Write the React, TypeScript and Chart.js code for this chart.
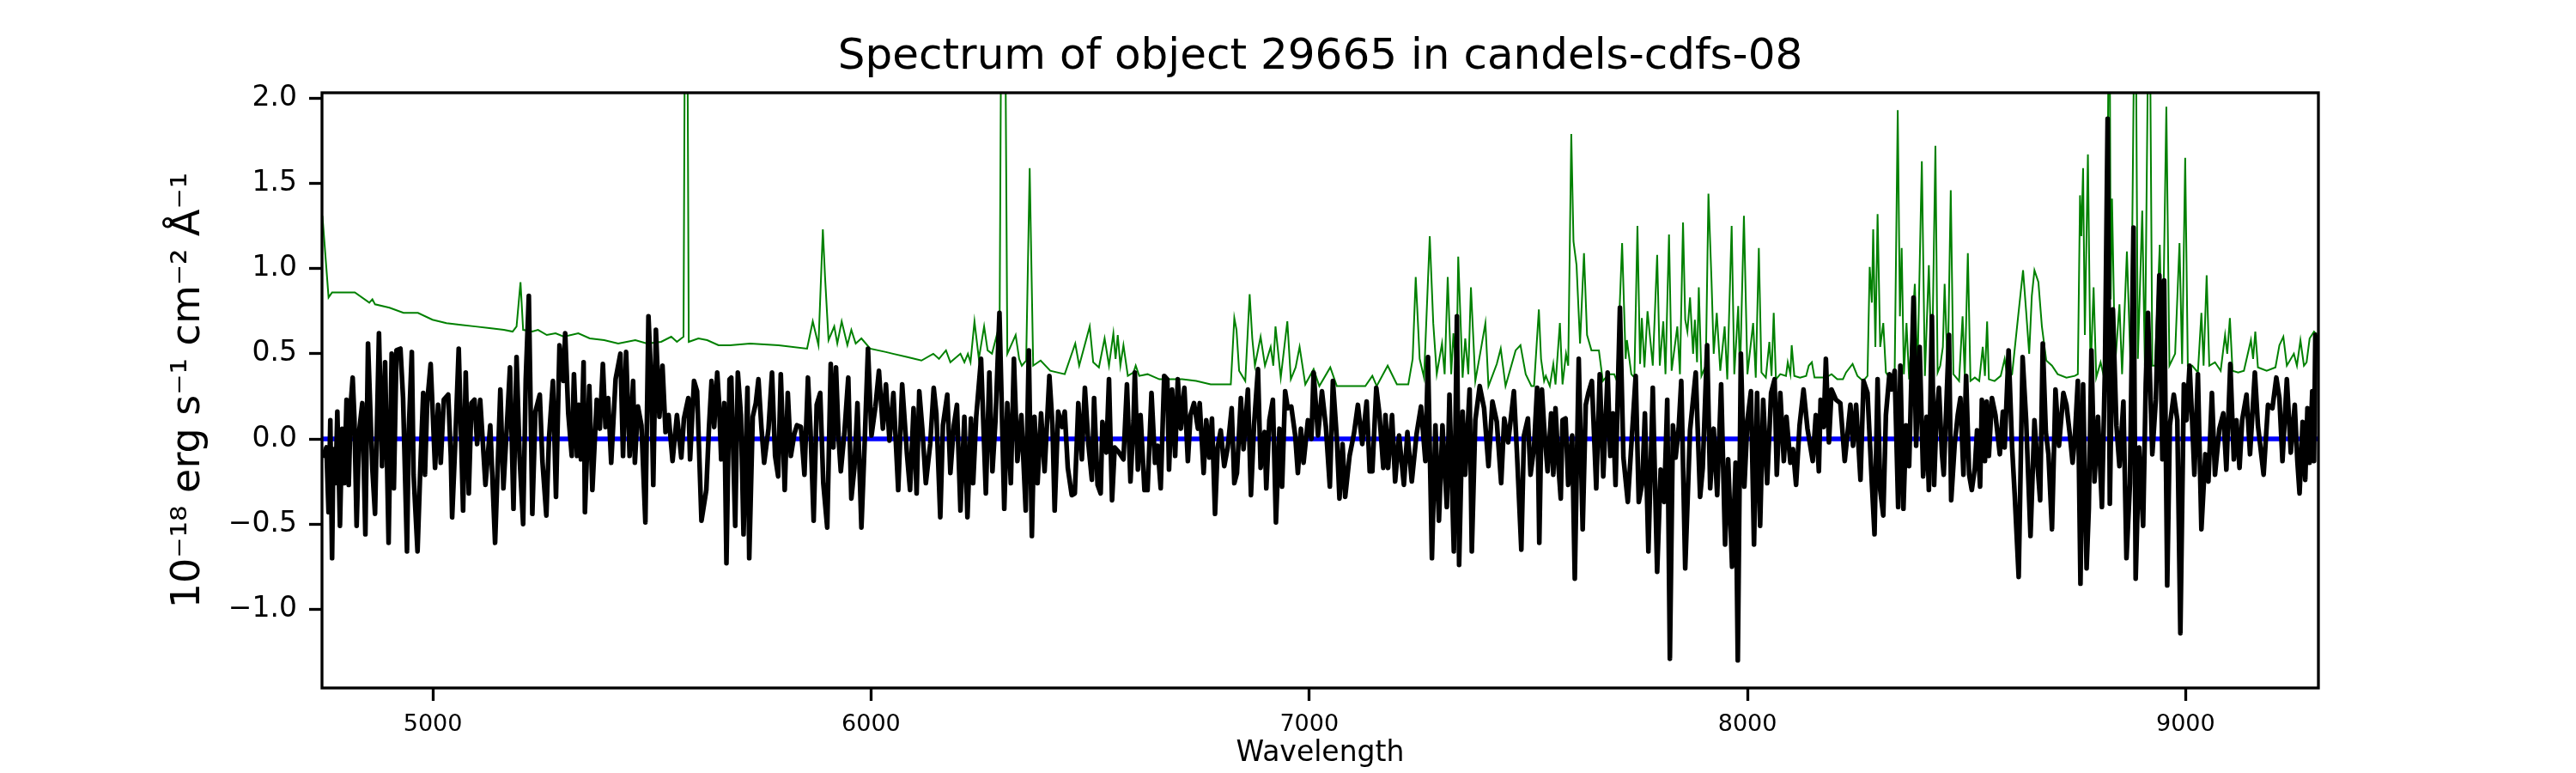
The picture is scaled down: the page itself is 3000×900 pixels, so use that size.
import React, { useEffect, useRef } from "react";
import { Chart, registerables } from "chart.js";

Chart.register(...registerables);

const titleText = "Spectrum of object 29665 in candels-cdfs-08";
const xLabel = "Wavelength";
const yLabel = "10⁻¹⁸ erg s⁻¹ cm⁻² Å⁻¹";

const xTicks = [5000, 6000, 7000, 8000, 9000];
const yTicks = [-1.0, -0.5, 0.0, 0.5, 1.0, 1.5, 2.0];
const xRange = [4747, 9303];
const yRange = [-1.462, 2.032];

// flux (black)
const fluxWave = [
  4749, 4757, 4762, 4766, 4770, 4773, 4778, 4782, 4788, 4793,
  4798, 4803, 4808, 4813, 4817, 4821, 4826, 4832, 4839, 4846,
  4852, 4862, 4868, 4877, 4884, 4891, 4899, 4906, 4911, 4917,
  4926, 4932, 4935, 4941, 4945, 4952, 4956, 4965, 4971, 4978,
  4982, 4987, 4995, 5005, 5012, 5018, 5025, 5035, 5041, 5044,
  5051, 5059, 5069, 5075, 5082, 5088, 5095, 5101, 5108, 5120,
  5131, 5142, 5154, 5161, 5169, 5176, 5184, 5191, 5198, 5206,
  5212, 5219, 5227, 5234, 5244, 5250, 5259, 5265, 5274, 5281,
  5289, 5298, 5302, 5309, 5317, 5322, 5329, 5333, 5338, 5344,
  5347, 5357, 5364, 5374, 5381, 5388, 5394, 5400, 5407, 5417,
  5428, 5434, 5441, 5449, 5457, 5461, 5468, 5476, 5485, 5492,
  5498, 5503, 5509, 5517, 5524, 5531, 5538, 5547, 5557, 5567,
  5573, 5583, 5587, 5596, 5603, 5613, 5624, 5630, 5636, 5642,
  5649, 5653, 5658, 5665, 5670, 5677,
  5681, 5690, 5696, 5703, 5709, 5718, 5722, 5730, 5737, 5743,
  5750, 5756, 5766, 5774, 5781, 5788, 5794, 5803, 5810, 5817,
  5825, 5831, 5840, 5848, 5856, 5862, 5869, 5876, 5884, 5891,
  5900, 5908, 5914, 5920, 5926, 5931, 5939, 5948, 5955, 5962,
  5969, 5978, 5985, 5993, 6001, 6010, 6018, 6027, 6034, 6042,
  6051, 6062, 6071, 6082, 6089, 6097, 6104, 6110, 6117, 6125,
  6135, 6143, 6149, 6158, 6164, 6174, 6181, 6189, 6196, 6204,
  6213, 6220, 6228, 6233, 6240, 6251, 6262, 6270, 6277, 6284,
  6293, 6304, 6311, 6319, 6326, 6334, 6343, 6353, 6360, 6367,
  6373, 6380, 6388, 6396, 6407, 6414, 6419, 6427, 6436, 6442,
  6449, 6458, 6465, 6473, 6481, 6488, 6496, 6504, 6509, 6517,
  6524, 6528, 6537, 6543, 6550, 6556, 6566, 6576, 6584, 6592,
  6599,
  6602, 6609, 6615, 6624, 6631, 6640, 6648, 6654, 6661, 6669,
  6676, 6680, 6687, 6694, 6700, 6707, 6715, 6723, 6729, 6737,
  6746, 6750, 6759, 6765, 6772, 6778, 6785, 6791, 6798, 6806,
  6814, 6823, 6829, 6835, 6844, 6850, 6860, 6867, 6874, 6883,
  6889, 6898, 6902, 6909, 6917, 6924, 6932, 6938, 6945, 6951,
  6959, 6968, 6974, 6981, 6987, 6997, 7005, 7010, 7020, 7029,
  7038, 7047, 7054, 7063, 7069, 7076, 7082, 7092, 7102, 7111,
  7121, 7131, 7138, 7144, 7153, 7160, 7169, 7174, 7180, 7189,
  7196, 7205, 7216, 7224, 7234, 7245, 7255, 7265, 7271, 7280,
  7288, 7296, 7304, 7314, 7320, 7330, 7337, 7342, 7350, 7356,
  7366, 7371, 7379, 7389, 7399, 7409, 7418, 7428, 7438, 7445,
  7454, 7467, 7474, 7484, 7490, 7499, 7505, 7513, 7520,
  7525, 7531, 7536, 7544, 7552, 7557, 7562, 7569, 7574, 7578,
  7585, 7591, 7600, 7606, 7615, 7624, 7631, 7637, 7645, 7655,
  7663, 7671, 7681, 7687, 7693, 7699, 7709, 7717, 7727, 7734,
  7745, 7752, 7760, 7766, 7774, 7784, 7794, 7802, 7810, 7817,
  7823, 7830, 7836, 7843, 7849, 7858, 7869, 7882, 7892, 7898,
  7908, 7915, 7923, 7931, 7940, 7949, 7956, 7965, 7973, 7978,
  7985, 7993, 8000, 8008, 8015, 8022, 8029, 8036, 8045, 8054,
  8062, 8067, 8075, 8083, 8089, 8098, 8104, 8111, 8119, 8128,
  8137, 8149, 8156, 8163, 8167, 8174, 8179, 8186, 8192, 8202,
  8212, 8222, 8228, 8235, 8241, 8248, 8258, 8265, 8274, 8284,
  8290, 8297, 8303, 8310, 8316, 8324, 8329, 8336, 8344, 8349,
  8356, 8362, 8369, 8379, 8385, 8393, 8401, 8409, 8414,
  8421, 8426, 8431, 8437, 8444, 8448, 8455, 8460, 8465, 8473,
  8480, 8486, 8493, 8499, 8506, 8512, 8519, 8524, 8531, 8535,
  8542, 8546, 8551, 8558, 8566, 8576, 8583, 8587, 8596, 8604,
  8610, 8619, 8628, 8636, 8646, 8655, 8661, 8668, 8674, 8681,
  8687, 8695, 8703, 8711, 8721, 8728, 8736, 8742, 8747, 8754,
  8760, 8766, 8774, 8779, 8785, 8792, 8800, 8809, 8816, 8822,
  8827, 8834, 8842, 8849, 8858, 8865, 8873, 8881, 8886, 8894,
  8903, 8909, 8914, 8924, 8932, 8940, 8947, 8951, 8958, 8964,
  8973, 8981, 8988, 8996, 9002, 9009, 9015, 9020, 9028, 9036,
  9045, 9052, 9060, 9067, 9077, 9086, 9093, 9102, 9110, 9116,
  9123, 9129, 9139, 9147, 9158, 9165, 9178, 9188, 9198, 9207,
  9214, 9221, 9231, 9240, 9249, 9255, 9260, 9267, 9273, 9278,
  9283, 9289, 9293, 9296, 9300,
];

const fluxValue = [
  -0.11, -0.05, -0.43, 0.11, -0.7, -0.06, -0.26, 0.16, -0.51, 0.06,
  -0.26, 0.23, -0.27, 0.22, 0.36, 0.12, -0.51, 0.05, 0.21, -0.56,
  0.56, -0.18, -0.44, 0.62, -0.16, 0.45, -0.61, 0.5, -0.29, 0.52,
  0.53, 0.24, -0.06, -0.66, 0.05, 0.51, -0.21, -0.66, -0.2, 0.27,
  -0.21, 0.21, 0.44, -0.17, 0.2, -0.14, 0.23, 0.26, -0.1, -0.46,
  -0.03, 0.53, -0.42, 0.39, -0.32, 0.21, 0.23, -0.03, 0.23, -0.27,
  0.08, -0.61, 0.29, -0.29, 0.08, 0.42, -0.41, 0.48, -0.11, -0.5,
  0.35, 0.84, -0.44, 0.16, 0.26, -0.13, -0.45, 0.0, 0.34, -0.34,
  0.55, 0.34, 0.62, 0.15, -0.1, 0.38, -0.1, 0.2, -0.12, 0.45,
  -0.43, 0.31, -0.3, 0.23, 0.06, 0.44, 0.07, 0.24, -0.14, 0.35,
  0.5, -0.1, 0.51, -0.1, 0.34, -0.14, 0.19, 0.08, -0.49, 0.72,
  0.36, -0.27, 0.64, 0.13, 0.43, 0.04, 0.14, -0.13, 0.14, -0.11,
  0.12, 0.24, -0.12, 0.34, 0.28, -0.48, -0.3, 0.06, 0.34, 0.07,
  0.39, 0.22, -0.12, 0.21, -0.73, 0.35,
  0.36, -0.51, 0.39, 0.14, -0.56, 0.3, -0.7, 0.13, 0.21, 0.35,
  0.06, -0.14, 0.06, 0.39, -0.1, -0.22, 0.38, -0.3, 0.27, -0.1,
  0.03, 0.08, 0.07, -0.21, 0.36, 0.04, -0.48, 0.2, 0.27, -0.26,
  -0.52, 0.44, -0.05, 0.42, 0.0, -0.19, 0.03, 0.36, -0.35, -0.17,
  0.21, -0.52, -0.05, 0.53, 0.02, 0.19, 0.4, 0.06, 0.32, -0.01,
  0.27, -0.3, 0.32, -0.09, -0.3, 0.18, -0.32, 0.28, 0.06, -0.26,
  -0.03, 0.3, 0.15, -0.46, 0.08, 0.26, -0.2, 0.08, 0.2, -0.42,
  0.13, -0.46, 0.12, -0.26, 0.13, 0.47, -0.32, 0.39, -0.19, 0.11,
  0.74, -0.41, 0.21, -0.26, 0.47, -0.13, 0.14, -0.42, 0.52, -0.57,
  0.13, -0.26, 0.15, -0.19, 0.37, 0.08, -0.42, 0.16, 0.07, 0.16,
  -0.17, -0.33, -0.32, 0.21, -0.12, 0.3, -0.03, -0.24, 0.24, -0.27,
  -0.32, 0.1, -0.08, 0.35, -0.36, -0.05, -0.08, -0.12, 0.32, -0.25,
  0.11,
  0.39, -0.18, 0.14, -0.3, -0.3, 0.27, -0.14, -0.04, -0.29, 0.37,
  0.35, -0.18, 0.29, -0.1, 0.35, 0.06, 0.3, -0.13, 0.14, 0.21,
  0.06, 0.21, -0.2, 0.11, -0.11, 0.12, -0.44, -0.05, 0.05, -0.16,
  -0.05, 0.18, -0.26, -0.2, 0.24, -0.06, 0.29, -0.33, 0.08, 0.41,
  -0.17, 0.04, -0.29, 0.11, 0.23, -0.49, 0.06, -0.28, 0.28, 0.18,
  0.19, 0.02, -0.2, 0.06, -0.14, 0.11, 0.0, 0.39, 0.02, 0.28,
  0.07, -0.28, 0.34, 0.0, -0.35, -0.03, -0.34, -0.1, 0.03, 0.2,
  -0.03, 0.22, -0.19, -0.19, 0.3, 0.15, -0.17, 0.14, -0.17, 0.14,
  -0.25, 0.02, -0.27, 0.04, -0.25, 0.03, 0.19, -0.13, 0.48, -0.7,
  0.08, -0.48, 0.08, -0.4, 0.26, -0.66, 0.72, -0.74, 0.16, -0.21,
  0.29, -0.66, 0.11, 0.31, 0.18, -0.16, 0.22, 0.1, -0.26, 0.12,
  -0.02, 0.28, -0.08, -0.65, 0.02, 0.12, -0.21, -0.05, 0.3,
  -0.61, 0.29, 0.07, -0.19, 0.15, -0.21, 0.18, -0.17, -0.35, 0.11,
  0.12, -0.27, 0.02, -0.82, 0.47, -0.53, 0.2, 0.27, 0.34, -0.29,
  0.38, -0.22, 0.39, -0.1, 0.15, -0.27, 0.77, -0.11, -0.37, -0.08,
  0.37, -0.37, -0.26, 0.15, -0.66, 0.3, -0.78, -0.18, -0.37, 0.23,
  -1.29, 0.08, -0.11, 0.06, 0.34, -0.76, 0.05, 0.39, -0.34, -0.17,
  0.55, -0.29, 0.06, -0.33, 0.32, -0.62, -0.12, -0.75, -0.14, -1.3,
  0.5, -0.28, 0.11, 0.28, -0.62, 0.27, -0.51, 0.23, -0.26, 0.27,
  0.35, -0.21, 0.27, -0.13, 0.13, -0.14, -0.06, -0.27, 0.08, 0.29,
  0.06, -0.13, 0.14, -0.19, 0.23, 0.07, 0.47, -0.02, 0.29, 0.23,
  0.21, -0.13, 0.02, 0.2, -0.04, 0.2, -0.24, 0.34, 0.27, -0.26,
  -0.56, 0.35, -0.3, -0.45, 0.14, 0.38, 0.29, 0.4, -0.4, 0.43,
  -0.41, 0.08, -0.16, 0.83, -0.04, 0.54, -0.22, 0.13, -0.3,
  0.72, -0.27, 0.11, 0.3, -0.09, -0.21, 0.27, 0.61, -0.36, -0.03,
  0.14, 0.24, -0.21, 0.37, -0.21, -0.3, -0.17, 0.05, -0.28, 0.23,
  -0.13, 0.22, -0.1, 0.24, 0.14, -0.09, 0.16, -0.05, 0.52, -0.05,
  -0.33, -0.81, 0.48, 0.11, -0.57, 0.11, -0.12, -0.36, 0.56, 0.04,
  -0.09, -0.53, 0.29, -0.04, 0.27, 0.2, 0.02, -0.14, 0.0, 0.34,
  -0.85, 0.32, -0.76, -0.41, 0.52, -0.25, 0.13, -0.4, 0.43, 1.88,
  -0.38, 0.76, 0.08, -0.16, 0.22, -0.7, -0.26, 1.24, -0.82, -0.05,
  -0.51, 0.32, 0.74, -0.09, 0.23, 0.96, -0.12, 0.93, -0.86, 0.08,
  0.26, 0.11, -1.14, 0.32, 0.11, 0.43, 0.1, -0.21, 0.38, -0.53,
  -0.09, -0.25, 0.27, -0.21, 0.06, 0.15, -0.18, 0.44, -0.12, 0.11,
  -0.17, 0.11, 0.26, -0.09, 0.39, 0.08, -0.21, 0.2, 0.18, 0.36,
  0.24, -0.13, 0.35, -0.08, 0.2, -0.13, -0.32, 0.1, -0.24, 0.18,
  -0.14, 0.28, -0.13, 0.61, 0.61,
];

// noise (green)
const noiseWave = [
  4748, 4762, 4770, 4822, 4855, 4862, 4868, 4901, 4933, 4966,
  4999, 5031, 5064, 5097, 5129, 5162, 5182, 5191, 5200, 5206,
  5227, 5240, 5260, 5280, 5299, 5332, 5358, 5391, 5423, 5462,
  5489, 5521, 5544, 5557, 5567, 5572, 5576, 5580, 5584, 5606,
  5626, 5652, 5678,
  5724, 5789, 5854, 5867, 5880, 5890, 5895, 5903, 5916, 5923,
  5933, 5946, 5955, 5965, 5978, 5998, 6034, 6050, 6083, 6115,
  6142, 6155, 6171, 6181, 6204, 6213, 6221, 6227, 6236, 6246,
  6258, 6266, 6276, 6287, 6293, 6298, 6305, 6311, 6330, 6338,
  6344, 6354, 6362, 6370, 6387, 6409, 6442, 6466, 6475, 6499,
  6507, 6520, 6533, 6543, 6553, 6558, 6563, 6569, 6576, 6586,
  6599,
  6604, 6612, 6631, 6658, 6677, 6710, 6742, 6775, 6821, 6829,
  6834, 6840, 6854, 6864, 6870, 6876, 6889, 6899, 6912, 6918,
  6923, 6935, 6950, 6958, 6969, 6978, 6991, 7010, 7023, 7048,
  7063, 7102, 7128, 7144, 7154, 7179, 7200, 7226, 7236, 7243,
  7252, 7262, 7275, 7283, 7291, 7303, 7309, 7316, 7324, 7329,
  7336, 7340, 7350, 7356, 7363, 7369, 7379, 7392, 7402, 7409,
  7428, 7437, 7448, 7471, 7482, 7494, 7507,
  7513, 7524, 7529, 7536, 7540, 7549, 7557, 7562, 7572, 7578,
  7586, 7591, 7598, 7603, 7610, 7618, 7627, 7634, 7644, 7653,
  7661, 7670, 7683, 7696, 7702, 7714, 7722, 7725, 7735, 7742,
  7749, 7755, 7759, 7765, 7772, 7778, 7784, 7794, 7800, 7808,
  7813, 7821, 7827, 7840, 7846, 7853, 7858, 7863, 7869, 7876,
  7880, 7885, 7889, 7895, 7905, 7911, 7918, 7923, 7930, 7938,
  7948, 7954, 7964, 7970, 7979, 7983, 7992, 8000, 8013, 8019,
  8026, 8032, 8042, 8050, 8055, 8060, 8065, 8075, 8088, 8092,
  8098, 8101, 8107, 8120, 8134, 8140, 8147, 8153, 8179, 8192,
  8205, 8218, 8225, 8240, 8251, 8264, 8274, 8279, 8284, 8287,
  8292, 8297, 8303, 8310, 8316, 8329, 8336, 8343, 8348, 8352,
  8357, 8363, 8369, 8382, 8388, 8398, 8405, 8414, 8421,
  8429, 8434, 8440, 8446, 8450, 8457, 8464, 8470, 8483, 8491,
  8496, 8503, 8509, 8519, 8529, 8537, 8542, 8547, 8551, 8564,
  8578, 8587, 8594, 8604, 8617, 8629, 8636, 8643, 8649, 8655,
  8664, 8672, 8682, 8695, 8708, 8728, 8747, 8754, 8759, 8762,
  8766, 8770, 8777, 8783, 8790, 8796, 8806, 8813, 8819, 8826,
  8829, 8832, 8839, 8849, 8855, 8866, 8875, 8885, 8891, 8901,
  8907, 8917, 8924, 8930, 8941, 8947, 8956, 8963, 8976, 8986,
  8992, 8999, 9005, 9015, 9028, 9036, 9041, 9048, 9054, 9067,
  9080, 9090, 9095, 9101, 9107, 9120, 9133, 9149, 9154, 9159,
  9165, 9185, 9205, 9214, 9223, 9231, 9247, 9254, 9262, 9270,
  9276, 9283, 9293, 9300,
];

const noiseValue = [
  1.31, 0.83, 0.86, 0.86, 0.8, 0.82, 0.79, 0.77, 0.74, 0.74,
  0.7, 0.68, 0.67, 0.66, 0.65, 0.64, 0.63, 0.66, 0.92, 0.64,
  0.63, 0.64, 0.61, 0.62, 0.6, 0.62, 0.59, 0.58, 0.56, 0.58,
  0.56, 0.57, 0.6, 0.57, 0.59, 0.6, 3.0, 3.0, 0.57, 0.59,
  0.58, 0.55, 0.55,
  0.56, 0.55, 0.53, 0.69, 0.55, 1.23, 0.95, 0.58, 0.66, 0.56,
  0.69, 0.55, 0.64, 0.56, 0.59, 0.53, 0.51, 0.5, 0.48, 0.46,
  0.5, 0.47, 0.52, 0.45, 0.5, 0.45, 0.5, 0.45, 0.69, 0.47,
  0.66, 0.52, 0.5, 0.61, 0.47, 3.0, 3.0, 0.5, 0.61, 0.47,
  0.43, 0.46, 1.59, 0.43, 0.46, 0.4, 0.38, 0.56, 0.43, 0.66,
  0.45, 0.42, 0.59, 0.43, 0.62, 0.47, 0.61, 0.43, 0.55, 0.37,
  0.39,
  0.43, 0.37, 0.38, 0.35, 0.35, 0.35, 0.34, 0.32, 0.32, 0.71,
  0.64, 0.4, 0.34, 0.85, 0.59, 0.43, 0.6, 0.43, 0.54, 0.43,
  0.66, 0.36, 0.69, 0.35, 0.42, 0.54, 0.32, 0.41, 0.31, 0.42,
  0.31, 0.31, 0.31, 0.37, 0.31, 0.43, 0.32, 0.32, 0.47, 0.95,
  0.47, 0.36, 1.19, 0.68, 0.38, 0.56, 0.38, 0.95, 0.38, 0.62,
  0.38, 1.07, 0.36, 0.59, 0.38, 0.89, 0.34, 0.53, 0.68, 0.31,
  0.44, 0.53, 0.31, 0.52, 0.55, 0.38, 0.31,
  0.31, 0.76, 0.47, 0.34, 0.37, 0.31, 0.44, 0.32, 0.68, 0.32,
  0.5, 0.43, 1.79, 1.16, 1.02, 0.56, 1.09, 0.61, 0.52, 0.52,
  0.52, 0.34, 0.38, 0.38, 0.34, 1.15, 0.47, 0.58, 0.38, 0.36,
  1.25, 0.44, 0.71, 0.42, 0.75, 0.59, 0.43, 1.08, 0.43, 0.69,
  0.38, 1.2, 0.4, 0.66, 0.38, 1.27, 0.7, 0.63, 0.83, 0.5,
  0.7, 0.45, 0.89, 0.37, 0.43, 1.44, 0.93, 0.5, 0.74, 0.4,
  0.66, 0.35, 1.25, 0.38, 0.78, 0.37, 1.31, 0.38, 0.68, 0.36,
  1.12, 0.39, 0.36, 0.57, 0.37, 0.74, 0.35, 0.38, 0.37, 0.45,
  0.38, 0.55, 0.37, 0.36, 0.37, 0.43, 0.45, 0.36, 0.36, 0.38,
  0.35, 0.35, 0.39, 0.44, 0.37, 0.34, 0.37, 1.01, 0.8, 1.23,
  0.54, 1.32, 0.54, 0.68, 0.39, 0.34, 0.39, 1.93, 0.72, 1.12,
  0.38, 0.68, 0.35, 0.91, 0.38, 1.63, 0.37, 1.02, 0.37,
  1.72, 0.39, 0.43, 0.54, 0.91, 0.38, 1.46, 0.38, 0.34, 0.72,
  0.36, 1.09, 0.34, 0.36, 0.34, 0.54, 0.37, 0.69, 0.35, 0.34,
  0.37, 0.47, 0.35, 0.38, 0.7, 0.99, 0.75, 0.5, 0.84, 0.99,
  0.92, 0.66, 0.46, 0.43, 0.38, 0.36, 0.37, 0.38, 1.43, 1.19,
  1.59, 0.61, 1.67, 0.38, 0.89, 0.36, 0.45, 0.37, 0.47, 3.0,
  0.82, 1.41, 0.43, 0.79, 0.38, 1.1, 0.38, 3.0, 0.47, 1.34,
  0.43, 3.0, 0.43, 0.43, 1.14, 0.4, 1.95, 0.43, 0.5, 1.15,
  0.44, 1.65, 0.43, 0.43, 0.39, 0.74, 0.43, 0.96, 0.43, 0.45,
  0.4, 0.61, 0.5, 0.71, 0.4, 0.39, 0.4, 0.58, 0.47, 0.63,
  0.42, 0.4, 0.42, 0.55, 0.6, 0.43, 0.5, 0.43, 0.58, 0.43,
  0.45, 0.59, 0.63, 0.61,
];

const zeroLevel = [0, 0];

const FONT = "'DejaVu Sans', sans-serif";

function toPoints(xs: number[], ys: number[]) {
  const n = Math.min(xs.length, ys.length);
  const out: { x: number; y: number }[] = [];
  for (let i = 0; i < n; i++) out.push({ x: xs[i], y: ys[i] });
  return out;
}

const framePlugin = {
  id: "frame",
  afterDatasetsDraw(chart: any) {
    const { ctx, chartArea: a } = chart;
    ctx.save();
    ctx.strokeStyle = "#000";
    ctx.lineWidth = 3.3;
    ctx.strokeRect(a.left, a.top, a.right - a.left, a.bottom - a.top);
    ctx.restore();
  },
};

export default function App() {
  const ref = useRef<HTMLCanvasElement | null>(null);

  useEffect(() => {
    if (!ref.current) return;
    Chart.defaults.font.family = FONT;
    Chart.defaults.color = "#000";
    const tickGrid = {
      drawOnChartArea: false,
      drawTicks: true,
      tickLength: 15,
      tickWidth: 3.3,
      tickColor: "#000",
    };
    const chart = new Chart(ref.current, {
      type: "line",
      data: {
        datasets: [
          {
            label: "flux",
            data: toPoints(fluxWave, fluxValue),
            borderColor: "#000000",
            borderWidth: 5.5,
            pointRadius: 0,
            tension: 0,
            fill: false,
            borderJoinStyle: "round",
          },
          {
            label: "zero",
            data: toPoints(xRange, zeroLevel),
            borderColor: "#0000ff",
            borderWidth: 5.5,
            pointRadius: 0,
            tension: 0,
            fill: false,
          },
          {
            label: "noise",
            data: toPoints(noiseWave, noiseValue),
            borderColor: "#008000",
            borderWidth: 2,
            pointRadius: 0,
            tension: 0,
            fill: false,
          },
        ],
      },
      options: {
        animation: false,
        responsive: false,
        devicePixelRatio: 1,
        parsing: false as any,
        events: [],
        layout: { padding: { left: 0, right: 300, top: 0, bottom: 0 } },
        plugins: {
          legend: { display: false },
          tooltip: { enabled: false },
          title: {
            display: true,
            text: titleText,
            fullSize: false,
            color: "#000",
            font: { size: 50, weight: "normal", family: FONT },
            padding: { top: 37, bottom: 11 },
          },
        },
        scales: {
          x: {
            type: "linear",
            bounds: "data",
            min: xRange[0],
            max: xRange[1],
            afterBuildTicks: (s: any) => {
              s.ticks = xTicks.map((v) => ({ value: v }));
            },
            afterFit: (s: any) => {
              s.height = 99;
            },
            ticks: {
              font: { size: 27, family: FONT },
              color: "#000",
              padding: 12,
              maxRotation: 0,
              autoSkip: false,
              callback: (v: any) => String(v),
            },
            grid: tickGrid,
            border: { display: false },
            title: {
              display: true,
              text: xLabel,
              color: "#000",
              font: { size: 33, family: FONT },
              padding: { top: 0, bottom: 3 },
            },
          },
          y: {
            type: "linear",
            bounds: "data",
            min: yRange[0],
            max: yRange[1],
            afterBuildTicks: (s: any) => {
              s.ticks = yTicks.map((v) => ({ value: v }));
            },
            afterFit: (s: any) => {
              s.width = 375;
            },
            ticks: {
              font: { size: 33, family: FONT },
              color: "#000",
              padding: 14,
              autoSkip: false,
              callback: (v: any) => Number(v).toFixed(1).replace("-", "\u2212"),
            },
            grid: tickGrid,
            border: { display: false },
            title: {
              display: true,
              text: yLabel,
              color: "#000",
              font: { size: 46, family: FONT },
              padding: { top: 192, bottom: 0 },
            },
          },
        },
      } as any,
      plugins: [framePlugin],
    });
    return () => chart.destroy();
  }, []);

  return (
    <div style={{ position: "fixed", left: 0, top: 0, width: 3000, height: 900, background: "#fff" }}>
      <canvas ref={ref} width={3000} height={900} style={{ display: "block", width: 3000, height: 900 }} />
    </div>
  );
}
